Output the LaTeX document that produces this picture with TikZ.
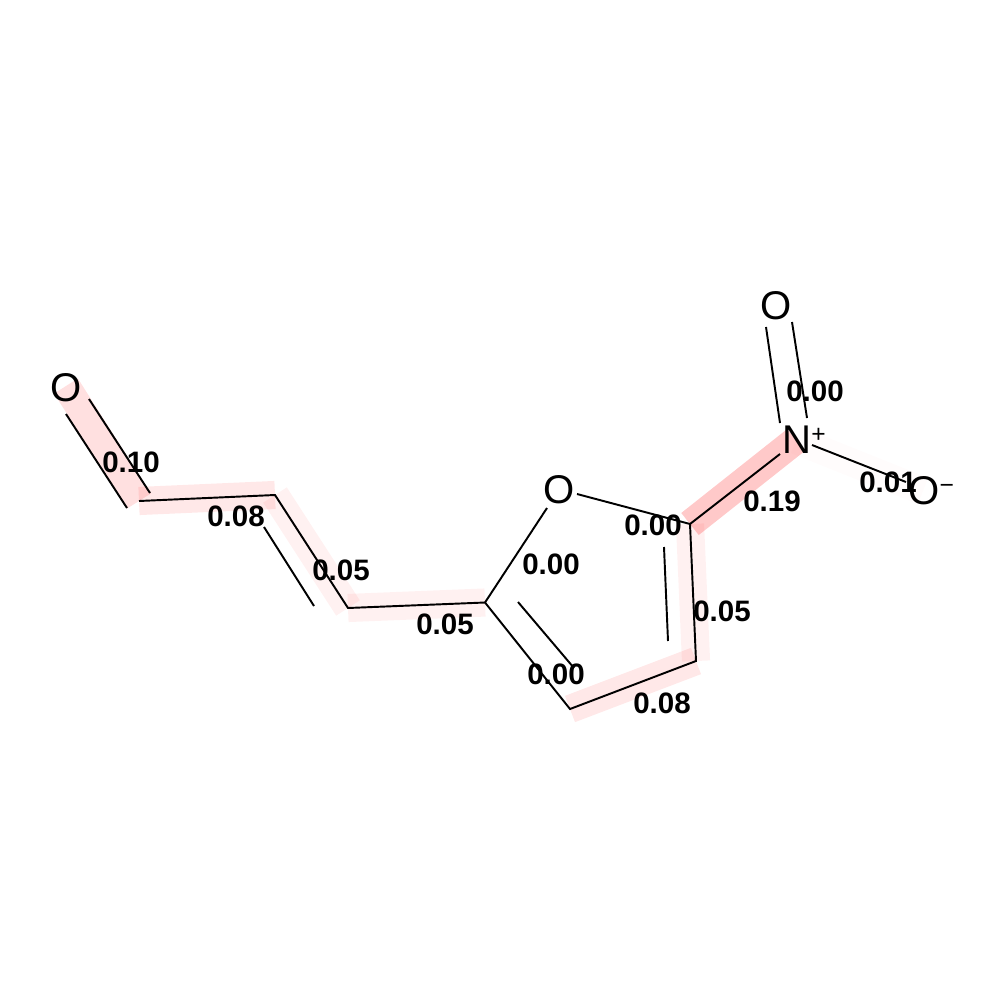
\documentclass[tikz,border=0pt]{standalone}
\usepackage{fontspec}
\setmainfont{Liberation Sans}
\begin{document}
\begin{tikzpicture}[x=0.01cm,y=-0.01cm,
  bond/.style={draw=black,line width=0.55pt},
  glow/.style={draw=red,line width=8pt,draw opacity=#1},
  atom/.style={inner sep=0pt,font=\fontsize{11.4}{12}\selectfont,text=black},
  score/.style={inner sep=0pt,font=\fontsize{8.4}{10}\selectfont\bfseries,text=black}]
\useasboundingbox (0,0) rectangle (1000,1000);
\fill[white] (0,0) rectangle (1000,1000);
% atom centres
\coordinate (a0) at (66,386);
\coordinate (a1) at (139,501);
\coordinate (a2) at (275,495);
\coordinate (a3) at (348,608);
\coordinate (a4) at (485,602.5);
\coordinate (a5) at (570,709);
\coordinate (a6) at (696,661);
\coordinate (a7) at (690,524);
\coordinate (a8) at (796,440);
\coordinate (a9) at (923,491);
% attribution bands
\draw[glow=.12] (a0) -- (a1);
\draw[glow=.09] (a1) -- (a2);
\draw[glow=.055] (a2) -- (a3);
\draw[glow=.055] (a3) -- (a4);
\draw[glow=.09] (a5) -- (a6);
\draw[glow=.055] (a6) -- (a7);
\draw[glow=.21] (a7) -- (a8);
\draw[glow=.012] (a8) -- (a9);
% bond end points
\coordinate (b1s) at (66,414); \coordinate (b1e) at (127,508);
\coordinate (b2s) at (89,399); \coordinate (b2e) at (150,493);
\coordinate (d1s) at (264,527); \coordinate (d1e) at (314,606);
\coordinate (o1) at (547,508);
\coordinate (o2) at (577,494);
\coordinate (d2s) at (518,602); \coordinate (d2e) at (574,668);
\coordinate (d3s) at (664,547); \coordinate (d3e) at (668,641);
\coordinate (n1) at (780,454);
\coordinate (t1s) at (766,327); \coordinate (t1e) at (780,423);
\coordinate (t2s) at (792,322); \coordinate (t2e) at (807,418);
\coordinate (m1s) at (812,445); \coordinate (m1e) at (906,482);
% bonds
\draw[bond] (b1s) -- (b1e);
\draw[bond] (b2s) -- (b2e);
\draw[bond] (a1) -- (a2) -- (a3) -- (a4) -- (a5) -- (a6) -- (a7);
\draw[bond] (d1s) -- (d1e);
\draw[bond] (a4) -- (o1);
\draw[bond] (o2) -- (a7);
\draw[bond] (d2s) -- (d2e);
\draw[bond] (d3s) -- (d3e);
\draw[bond] (a7) -- (n1);
\draw[bond] (t1s) -- (t1e);
\draw[bond] (t2s) -- (t2e);
\draw[bond] (m1s) -- (m1e);
% atoms
\node[atom] (O1) at (66,388) {O};
\node[atom] (O2) at (559,490) {O};
\node[atom] (O3) at (776,306) {O};
\node[atom] (N1) at (797,440) {N\rlap{\raisebox{3.2pt}{\fontsize{7}{8}\selectfont +}}};
\node[atom] (O4) at (924,491) {O\rlap{\raisebox{3.2pt}{\fontsize{7}{8}\selectfont −}}};
% scores
\node[score] (s1) at (131,462) {0.10};
\node[score] (s2) at (236,516) {0.08};
\node[score] (s3) at (341,570) {0.05};
\node[score] (s4) at (445,624) {0.05};
\node[score] (s5) at (551,564) {0.00};
\node[score] (s6) at (556,674) {0.00};
\node[score] (s7) at (662,703) {0.08};
\node[score] (s8) at (722,611) {0.05};
\node[score] (s9) at (653,525) {0.00};
\node[score] (s10) at (772,501) {0.19};
\node[score] (s11) at (815,391) {0.00};
\node[score] (s12) at (888,482) {0.01};
\end{tikzpicture}
\end{document}
